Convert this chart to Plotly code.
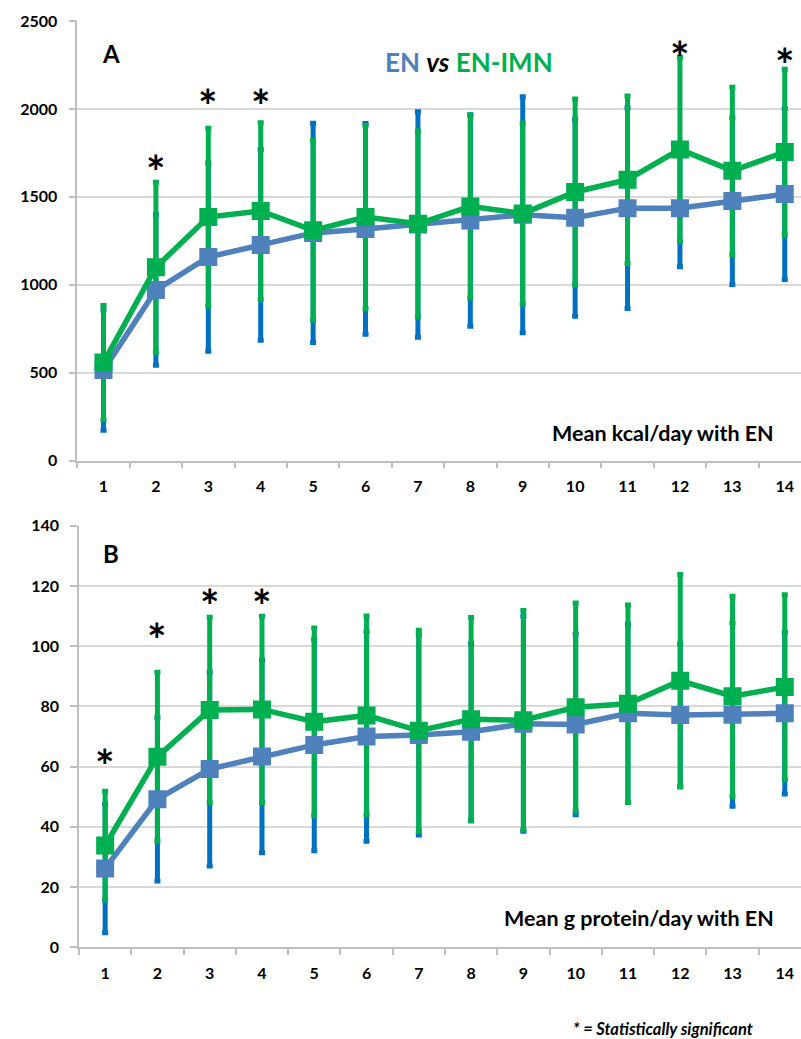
import plotly.graph_objects as go

days = [str(d) for d in range(1, 15)]

# Panel A: mean kcal/day (EN vs EN-IMN), with SD
kcal_en_mean = [515, 970, 1158, 1227, 1295, 1318, 1343, 1366, 1398, 1381, 1436, 1435, 1476, 1516]
kcal_en_sd = [342, 428, 535, 542, 623, 599, 641, 601, 671, 560, 571, 332, 474, 486]
kcal_imn_mean = [558, 1100, 1385, 1420, 1310, 1385, 1347, 1446, 1405, 1528, 1598, 1770, 1648, 1755]
kcal_imn_sd = [325, 483, 505, 502, 510, 521, 528, 519, 513, 528, 475, 524, 475, 471]

# Panel B: mean g protein/day
prot_en_mean = [26.2, 49.2, 59.2, 63.4, 67.2, 70.0, 70.5, 71.6, 74.2, 74.0, 77.7, 77.1, 77.2, 77.7]
prot_en_sd = [21.4, 27.2, 32.2, 32.0, 35.1, 34.8, 33.2, 29.3, 35.7, 30.0, 29.6, 23.7, 30.4, 26.8]
prot_imn_mean = [33.8, 63.3, 78.8, 79.0, 74.9, 77.0, 71.9, 75.7, 75.4, 79.7, 80.9, 88.5, 83.4, 86.4]
prot_imn_sd = [18.0, 28.0, 30.8, 30.9, 31.1, 33.0, 33.4, 33.8, 36.4, 34.6, 32.8, 35.3, 33.2, 30.7]

# significance markers
star_A_days = ["2", "3", "4", "12", "14"]
star_A_y = [1690, 2065, 2065, 2340, 2300]
star_B_days = ["1", "2", "3", "4"]
star_B_y = [63, 105, 116, 116]

BLUE = "#4F81BD"
BLUE_ERR = "#0070C0"
GREEN = "#00B050"
GRID = "#D9D9D9"
AXIS = "#BFBFBF"
FONT = "Lato"

fig = go.Figure()


def add_panel(xa, ya, en_mean, en_sd, imn_mean, imn_sd):
    # error bars first (below all lines / markers)
    for mean, sd, col in [(en_mean, en_sd, BLUE_ERR), (imn_mean, imn_sd, GREEN)]:
        fig.add_trace(go.Scatter(
            x=days, y=mean, mode="markers", xaxis=xa, yaxis=ya,
            marker=dict(size=1, color="rgba(0,0,0,0)"),
            error_y=dict(type="data", array=sd, visible=True, color=col,
                         thickness=5, width=3),
            showlegend=False, hoverinfo="skip"))
    for mean, col, sz in [(en_mean, BLUE, 15), (imn_mean, GREEN, 15)]:
        fig.add_trace(go.Scatter(
            x=days, y=mean, mode="lines+markers", xaxis=xa, yaxis=ya,
            line=dict(color=col, width=5.5),
            marker=dict(symbol="square", size=sz, color=col,
                        line=dict(color=col, width=3)),
            showlegend=False))


add_panel("x", "y", kcal_en_mean, kcal_en_sd, kcal_imn_mean, kcal_imn_sd)
add_panel("x2", "y2", prot_en_mean, prot_en_sd, prot_imn_mean, prot_imn_sd)

H = 1039.0
W = 801.0

xcommon = dict(type="category", range=[-0.5, 13.31], tickson="boundaries",
               ticks="outside", ticklen=6, tickcolor=AXIS, tickwidth=1.5,
               showline=True, linecolor=AXIS, linewidth=1.5, showgrid=False,
               tickfont=dict(family=FONT, size=16, color="#000000", weight=700),
               automargin=False, zeroline=False, fixedrange=True)
ycommon = dict(ticks="outside", ticklen=7, tickcolor=AXIS, tickwidth=1.5,
               showline=True, linecolor=AXIS, linewidth=1.5, showgrid=True,
               gridcolor=GRID, gridwidth=1.5, zeroline=False,
               tickfont=dict(family=FONT, size=16, color="#000000", weight=700),
               ticklabelstandoff=8, automargin=False, fixedrange=True)

fig.update_layout(
    width=801, height=1039,
    margin=dict(l=0, r=0, t=0, b=0),
    paper_bgcolor="white", plot_bgcolor="white",
    template="none",
    showlegend=False,
    xaxis=dict(domain=[77.3 / W, 1], anchor="y", ticklabelstandoff=10, **xcommon),
    yaxis=dict(domain=[1 - 460.7 / H, 1 - 21 / H], anchor="x", range=[0, 2500],
               tickvals=[0, 500, 1000, 1500, 2000, 2500], **ycommon),
    xaxis2=dict(domain=[79 / W, 1], anchor="y2", ticklabelstandoff=11, **xcommon),
    yaxis2=dict(domain=[1 - 947.3 / H, 1 - 525.7 / H], anchor="x2", range=[0, 140],
                tickvals=[0, 20, 40, 60, 80, 100, 120, 140], **ycommon),
)

ann = []
for d, yv in zip(star_A_days, star_A_y):
    ann.append(dict(x=days.index(d), y=yv, xref="x", yref="y", text="*", showarrow=False,
                    font=dict(family=FONT, size=46, color="black", weight=700),
                    yanchor="middle", yshift=-8))
for d, yv in zip(star_B_days, star_B_y):
    ann.append(dict(x=days.index(d), y=yv, xref="x2", yref="y2", text="*", showarrow=False,
                    font=dict(family=FONT, size=46, color="black", weight=700),
                    yanchor="middle", yshift=-8))

# panel letters
ann.append(dict(x=111 / W, y=1 - 53 / H, xref="paper", yref="paper", text="A",
                showarrow=False, font=dict(family=FONT, size=24, color="black", weight=700),
                xanchor="center", yanchor="middle"))
ann.append(dict(x=111 / W, y=1 - 553 / H, xref="paper", yref="paper", text="B",
                showarrow=False, font=dict(family=FONT, size=24, color="black", weight=700),
                xanchor="center", yanchor="middle"))
# title legend
ann.append(dict(x=469 / W, y=1 - 62 / H, xref="paper", yref="paper",
                text=f"<span style='color:{BLUE}'>EN</span> <i>vs</i> "
                     f"<span style='color:{GREEN}'>EN-IMN</span>",
                showarrow=False, font=dict(family=FONT, size=26, color="black", weight=700),
                xanchor="center", yanchor="middle"))
# panel descriptions
ann.append(dict(x=776 / W, y=1 - 433 / H, xref="paper", yref="paper",
                text="Mean kcal/day with EN", showarrow=False,
                font=dict(family=FONT, size=21.5, color="black", weight=700),
                xanchor="right", yanchor="middle"))
ann.append(dict(x=776 / W, y=1 - 918 / H, xref="paper", yref="paper",
                text="Mean g protein/day with EN", showarrow=False,
                font=dict(family=FONT, size=21.5, color="black", weight=700),
                xanchor="right", yanchor="middle"))
ann.append(dict(x=755 / W, y=1 - 1029 / H, xref="paper", yref="paper",
                text="<i>* = Statistically significant</i>", showarrow=False,
                font=dict(family=FONT, size=16.5, color="black", weight=700),
                xanchor="right", yanchor="middle"))
fig.update_layout(annotations=ann)

fig.write_html("out.html", config={"displayModeBar": False},
               post_script="document.body.style.margin='0';")
